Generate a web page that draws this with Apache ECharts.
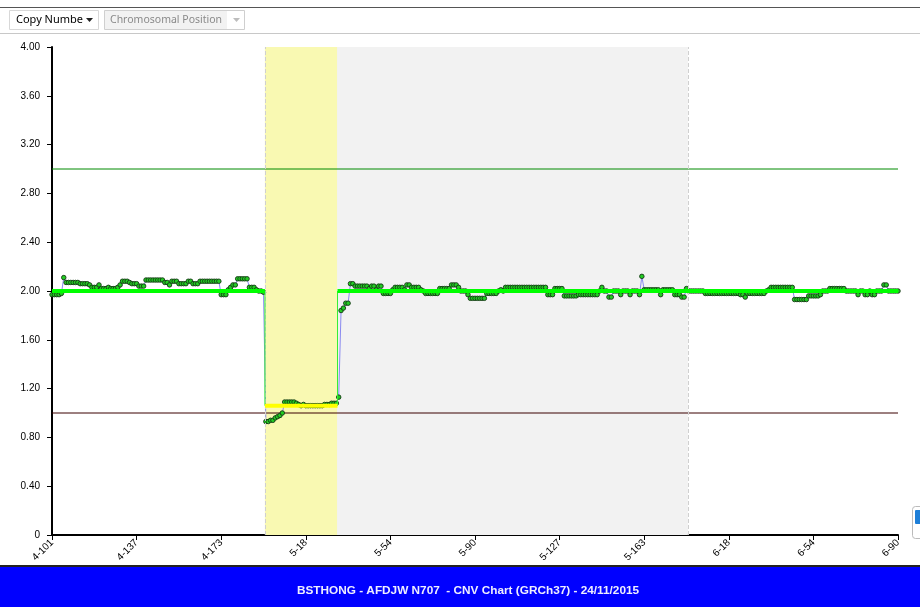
<!DOCTYPE html>
<html>
<head>
<meta charset="utf-8">
<script src="https://cdn.jsdelivr.net/npm/echarts@6/dist/echarts.min.js"></script>
<style>
html,body{margin:0;padding:0;background:#fff;}
#c{width:920px;height:607px;}
</style>
</head>
<body>
<div id="c"></div>
<script>
// ---- data ----
const xTickLabels = ['4-101','4-137','4-173','5-18','5-54','5-90','5-127','5-163','6-18','6-54','6-90'];
const yTickLabels = ['0','0.40','0.80','1.20','1.60','2.00','2.40','2.80','3.20','3.60','4.00'];
// copy number per probe (index 0..360)
const cnValues = [
1.97,1.97,1.97,1.97,1.98,2.11,2.07,2.07,2.07,2.07,
2.07,2.07,2.06,2.06,2.06,2.06,2.05,2.03,2.03,2.03,
2.05,2.02,2.02,2.02,2.03,2.02,2.02,2.02,2.03,2.05,
2.08,2.08,2.08,2.07,2.06,2.06,2.06,2.04,2.04,2.04,
2.09,2.09,2.09,2.09,2.09,2.09,2.09,2.09,2.07,2.07,
2.05,2.08,2.08,2.08,2.06,2.06,2.06,2.06,2.08,2.08,
2.06,2.06,2.06,2.08,2.08,2.08,2.08,2.08,2.08,2.08,
2.08,2.08,1.97,1.97,1.97,2.01,2.03,2.05,2.05,2.10,
2.10,2.10,2.10,2.10,2.03,2.03,2.03,2.01,2.00,2.00,
1.99,0.93,0.93,0.94,0.94,0.96,0.97,0.98,1.00,1.09,
1.09,1.09,1.09,1.09,1.08,1.07,1.06,1.07,1.06,1.06,
1.06,1.06,1.06,1.06,1.06,1.06,1.07,1.07,1.07,1.08,
1.08,1.08,1.13,1.84,1.86,1.90,1.90,2.06,2.06,2.04,
2.04,2.04,2.04,2.04,2.04,2.02,2.04,2.04,2.01,2.04,
2.04,1.98,1.98,1.98,1.98,2.01,2.03,2.03,2.03,2.03,
2.01,2.05,2.05,2.03,2.03,2.03,2.03,2.01,2.00,1.98,
1.98,1.98,1.98,1.98,1.98,2.02,2.02,2.02,2.02,2.02,
2.05,2.05,2.05,2.03,2.00,2.00,2.00,1.97,1.94,1.94,
1.94,1.94,1.94,1.94,1.94,1.98,1.98,1.98,1.98,1.98,
2.00,2.01,2.00,2.03,2.03,2.03,2.03,2.03,2.03,2.03,
2.03,2.03,2.03,2.03,2.03,2.03,2.03,2.03,2.03,2.03,
2.03,1.97,1.97,1.97,2.02,2.02,2.02,2.02,1.96,1.96,
1.96,1.96,1.96,1.96,1.97,1.97,1.97,1.97,1.97,1.97,
1.97,1.97,1.97,2.00,2.03,2.00,2.00,1.95,1.95,2.00,
2.00,2.00,1.97,2.00,2.00,2.00,1.97,2.00,2.00,2.00,
1.97,2.12,2.01,2.01,2.01,2.01,2.01,2.01,2.01,1.97,
2.01,2.01,2.01,2.01,2.01,1.97,1.97,1.97,1.95,1.95,
2.02,2.00,2.00,2.00,2.00,2.00,2.00,2.00,1.98,1.98,
1.98,1.98,1.98,1.98,1.98,1.98,1.98,1.98,1.98,1.98,
1.98,1.98,1.98,1.97,1.97,1.95,1.98,1.98,1.98,1.98,
1.98,1.98,1.98,1.98,2.00,2.01,2.03,2.03,2.03,2.03,
2.03,2.03,2.03,2.03,2.03,2.03,1.93,1.93,1.93,1.93,
1.93,1.93,1.96,1.96,1.96,1.96,1.96,1.97,2.00,2.00,
2.00,2.02,2.02,2.02,2.02,2.02,2.02,2.02,2.00,2.00,
2.00,2.00,2.00,1.97,2.00,2.00,1.97,1.97,2.00,1.97,
1.97,2.00,2.00,2.00,2.05,2.05,2.00,2.00,2.00,2.00,2.00
];
// segmentation calls
const segStart = [0, 90.6, 121.5];
const segEnd   = [90.6, 121.5, 360];
const segValue = [2.0, 1.06, 2.0];
// highlighted regions (probe index)
const chromRegion = [90.6, 270.6];
const lossRegion  = [90.6, 121.3];
// reference lines
const gainLine = 3.0;
const lossLine = 1.0;
const titleText = 'BSTHONG - AFDJW N707  - CNV Chart (GRCh37) - 24/11/2015';

// ---- chart ----
const chart = echarts.init(document.getElementById('c'), null, {renderer:'canvas'});
const FONT = 'Liberation Sans, Arial, sans-serif';
const UIFONT = 'Noto Sans, Open Sans, sans-serif';

const segSeries = segStart.map((s, i) => ({
  type:'line', z:6, silent:true, symbol:'none', animation:false,
  data:[[s, segValue[i]],[segEnd[i], segValue[i]]],
  lineStyle:{color: segValue[i] < 1.5 ? '#ffff00' : '#00ff00', width:4}
}));
const connSeries = segStart.slice(1).map((s, i) => ({
  type:'line', z:5, silent:true, symbol:'none', animation:false,
  data:[[segEnd[i], segValue[i]],[s, segValue[i+1]]],
  lineStyle:{color:'#33ee33', width:1}
}));
const refSeries = [[gainLine,'#008a00'],[lossLine,'#3a0000']].map(([v,c]) => ({
  type:'line', z:2, silent:true, symbol:'none', animation:false,
  data:[[0,v],[360,v]],
  lineStyle:{color:c, width:1}
}));

const option = {
  animation:false,
  backgroundColor:'#ffffff',
  grid:{left:52, right:22, top:47, bottom:72},
  xAxis:{
    type:'value', min:0, max:360, interval:36,
    axisLine:{show:true, lineStyle:{color:'#000', width:2}},
    axisTick:{show:true, length:5, lineStyle:{color:'#000', width:1}},
    splitLine:{show:false},
    axisLabel:{
      rotate:45, margin:6, fontSize:10, color:'#000', fontFamily:FONT,
      formatter:(v)=> xTickLabels[Math.round(v/36)] || ''
    }
  },
  yAxis:{
    type:'value', min:0, max:4, interval:0.4,
    axisLine:{show:true, lineStyle:{color:'#000', width:2}},
    axisTick:{show:true, length:5, lineStyle:{color:'#000', width:1}},
    splitLine:{show:false},
    axisLabel:{
      margin:12, fontSize:10, color:'#000', fontFamily:FONT,
      formatter:(v)=> yTickLabels[Math.round(v/0.4)]
    }
  },
  series:[
    {
      type:'line', z:1, silent:true, symbol:'none', data:[],
      markArea:{
        silent:true,
        data:[
          [{xAxis:chromRegion[0], yAxis:0, itemStyle:{color:'#f2f2f2'}},{xAxis:chromRegion[1], yAxis:4}],
          [{xAxis:lossRegion[0], yAxis:0, itemStyle:{color:'#f9f9b2'}},{xAxis:lossRegion[1], yAxis:4}]
        ]
      },
      markLine:{
        silent:true, symbol:'none', label:{show:false},
        lineStyle:{color:'#d0d0d0', width:1, type:'dashed'},
        data:[{xAxis:chromRegion[0]},{xAxis:chromRegion[1]}]
      }
    },
    ...refSeries,
    {
      type:'line', z:3, silent:true,
      data: cnValues.map((v,i)=>[i,v]),
      symbol:'circle', symbolSize:4.5, showAllSymbol:true,
      lineStyle:{color:'#8a8af0', width:1},
      itemStyle:{color:'#22cc22', borderColor:'#143814', borderWidth:0.9}
    },
    ...connSeries,
    ...segSeries
  ],
  graphic:[
    // toolbar
    {type:'line', shape:{x1:0, y1:7.5, x2:920, y2:7.5}, style:{stroke:'#555', lineWidth:1}, silent:true},
    {type:'line', shape:{x1:0, y1:33.5, x2:920, y2:33.5}, style:{stroke:'#c8c8c8', lineWidth:1}, silent:true},
    {type:'rect', shape:{x:9.5, y:10.5, width:89, height:19}, style:{fill:'#fff', stroke:'#d8d8d8', lineWidth:1}, silent:true},
    {type:'text', x:16, y:20, style:{text:'Copy Numbe', fontSize:11, fontFamily:UIFONT, fill:'#000', verticalAlign:'middle'}, silent:true},
    {type:'polygon', shape:{points:[[86,18],[93,18],[89.5,22]]}, style:{fill:'#222'}, silent:true},
    {type:'rect', shape:{x:104.5, y:10.5, width:140, height:19}, style:{fill:'#fff', stroke:'#cfcfcf', lineWidth:1}, silent:true},
    {type:'rect', shape:{x:105, y:11, width:122, height:18}, style:{fill:'#f2f2f2'}, silent:true},
    {type:'text', x:110, y:20, style:{text:'Chromosomal Position', fontSize:10.5, fontFamily:UIFONT, fill:'#8a8a8a', verticalAlign:'middle'}, silent:true},
    {type:'polygon', shape:{points:[[233,18],[240,18],[236.5,22]]}, style:{fill:'#bdbdbd'}, silent:true},
    // bottom title bar
    {type:'line', shape:{x1:0, y1:566, x2:920, y2:566}, style:{stroke:'#222', lineWidth:2}, silent:true},
    {type:'rect', shape:{x:0, y:567, width:920, height:40}, style:{fill:'#0000ff'}, silent:true},
    {type:'text', x:468, y:591, style:{text:titleText, fontSize:11.8, fontWeight:'bold', fontFamily:FONT, fill:'#eeeeff', align:'center', verticalAlign:'middle'}, silent:true},
    // right-edge icon fragment
    {type:'rect', shape:{x:912.5, y:506.5, width:14, height:32, r:3}, style:{fill:'#fff', stroke:'#bbbbbb', lineWidth:1}, silent:true},
    {type:'rect', shape:{x:915, y:510, width:8, height:14, r:1}, style:{fill:'#1e7fd8'}, silent:true}
  ]
};
chart.setOption(option);
</script>
</body>
</html>
